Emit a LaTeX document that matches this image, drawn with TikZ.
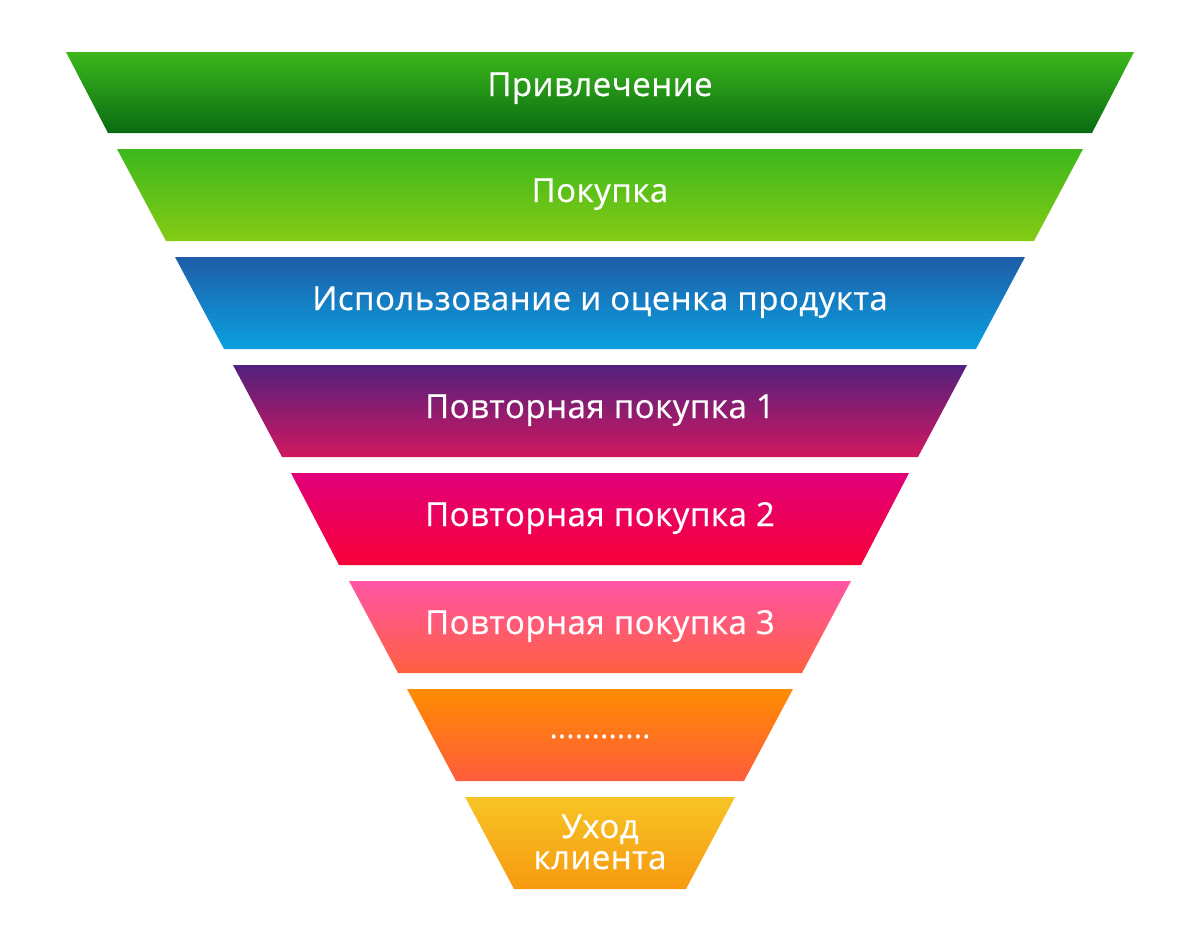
\documentclass[tikz,border=0pt]{standalone}
\usepackage{fontspec}
\setmainfont{Open Sans}[FakeBold=0.6,LetterSpace=1.5]
\begin{document}
\begin{tikzpicture}[x=1pt,y=-1pt,
  lbl/.style={text=white,font=\fontsize{33}{31}\selectfont,anchor=base,inner sep=0pt,align=center}]
\useasboundingbox[fill=white] (0,0) rectangle (1200,930);
% trapezoids: top y, bottom y, top-left x, bottom-left x
\definecolor{c1t}{HTML}{3CB81C}\definecolor{c1b}{HTML}{096B12}
\definecolor{c2t}{HTML}{3CB81C}\definecolor{c2b}{HTML}{86CB14}
\definecolor{c3t}{HTML}{1E5EA8}\definecolor{c3b}{HTML}{0AA0E0}
\definecolor{c4t}{HTML}{52207E}\definecolor{c4b}{HTML}{D0185E}
\definecolor{c5t}{HTML}{E0007A}\definecolor{c5b}{HTML}{F80038}
\definecolor{c6t}{HTML}{FF55A5}\definecolor{c6b}{HTML}{FF6040}
\definecolor{c7t}{HTML}{FF8C00}\definecolor{c7b}{HTML}{FF5C3C}
\definecolor{c8t}{HTML}{F7C425}\definecolor{c8b}{HTML}{F79A10}
\foreach \i/\yt/\yb/\xt/\xb in {1/52/133/66/108,2/149/241/117/166,3/257/349/175/224,4/365/457/233/282,5/473/565/291/339,6/581/673/349/398,7/689/781/407/456,8/797/889/465/514}{
  \shade[top color=c\i t,bottom color=c\i b] (\xt,\yt) -- (1200-\xt,\yt) -- (1200-\xb,\yb) -- (\xb,\yb) -- cycle;
}
\node[lbl] (t1) at (600,96) {Привлечение};
\node[lbl] (t2) at (600,202) {Покупка};
\node[lbl] (t3) at (600,310) {Использование и оценка продукта};
\node[lbl] (t4) at (600,418) {Повторная покупка 1};
\node[lbl] (t5) at (600,526) {Повторная покупка 2};
\node[lbl] (t6) at (600,634) {Повторная покупка 3};
\node[lbl,font=\fontsize{30}{31}\selectfont] (t7) at (600,738) {............};
\node[lbl] (t8) at (600,869) {Уход\\клиента};
\end{tikzpicture}
\end{document}
